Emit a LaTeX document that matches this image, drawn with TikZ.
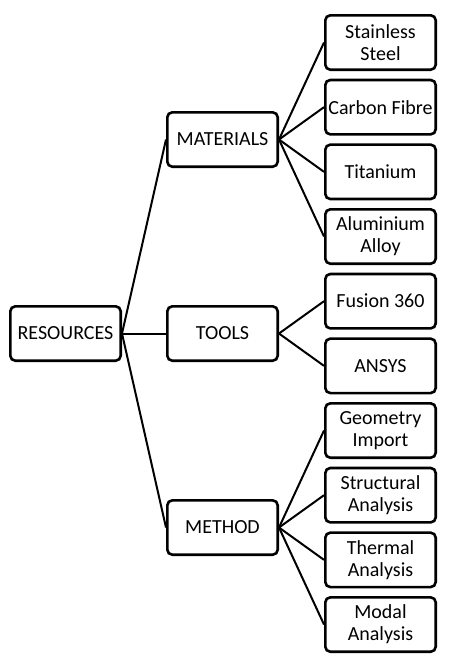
\documentclass[tikz,border=0pt]{standalone}
\usepackage{fontspec}
\setmainfont{Carlito}
\usetikzlibrary{positioning, calc}

\begin{document}
\begin{tikzpicture}[
    x=1pt, y=-1pt,
    node distance=7.67pt,
    box/.style={rectangle, draw, rounded corners=5pt, line width=2.6pt, minimum width=110.4pt, minimum height=54.4pt, inner sep=1pt, align=center, font=\fontsize{20}{22}\selectfont},
    link/.style={line width=2pt}
]
\useasboundingbox (0,0) rectangle (448,665);

% leaves
\node[box] (steel) at (380.5,42.5) {Stainless\\Steel};
\node[box, below=of steel] (carbon) {Carbon Fibre};
\node[box, below=of carbon] (titanium) {Titanium};
\node[box, below=of titanium] (alloy) {Aluminium\\Alloy};
\node[box, below=of alloy] (fusion) {Fusion 360};
\node[box, below=of fusion] (ansys) {ANSYS};
\node[box, below=of ansys] (geometry) {Geometry\\Import};
\node[box, below=of geometry] (structural) {Structural\\Analysis};
\node[box, below=of structural] (thermal) {Thermal\\Analysis};
\node[box, below=of thermal] (modal) {Modal\\Analysis};

% middle level
\node[box] (materials) at ($(steel)!0.5!(alloy) + (-158,0)$) {MATERIALS};
\node[box] (tools) at ($(fusion)!0.5!(ansys) + (-158,0)$) {TOOLS};
\node[box] (method) at ($(geometry)!0.5!(modal) + (-158,0)$) {METHOD};
\node[box] (resources) at ($(tools) + (-157,0)$) {RESOURCES};

\draw[link] (resources.east) -- (materials.west);
\draw[link] (resources.east) -- (tools.west);
\draw[link] (resources.east) -- (method.west);
\foreach \leaf in {steel, carbon, titanium, alloy}
    \draw[link] (materials.east) -- (\leaf.west);
\foreach \leaf in {fusion, ansys}
    \draw[link] (tools.east) -- (\leaf.west);
\foreach \leaf in {geometry, structural, thermal, modal}
    \draw[link] (method.east) -- (\leaf.west);

\end{tikzpicture}
\end{document}
